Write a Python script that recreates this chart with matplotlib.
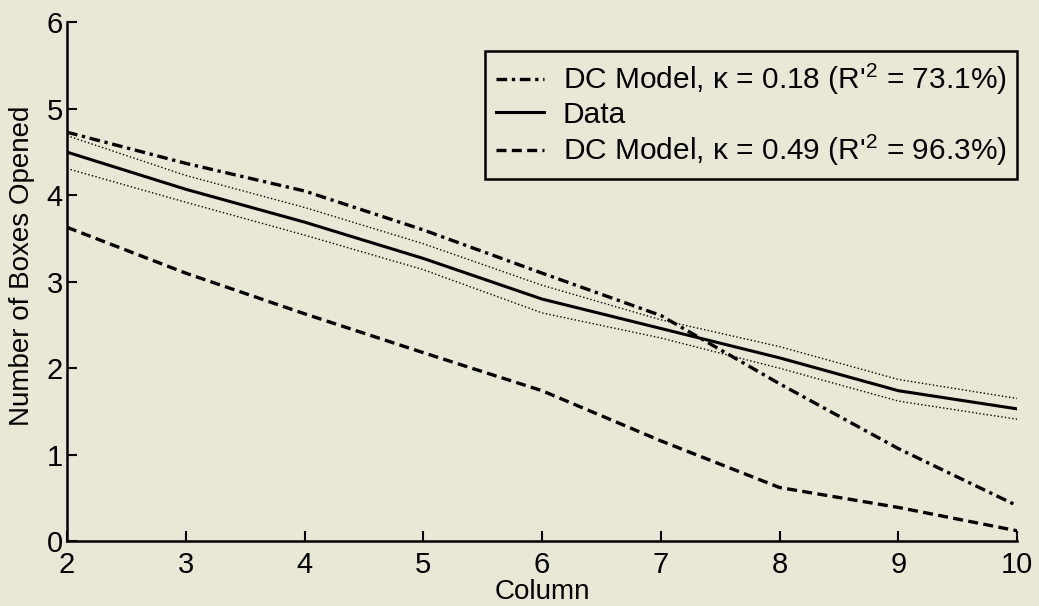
import matplotlib.pyplot as plt

# 数据
columns = [2, 3, 4, 5, 6, 7, 8, 9, 10]
data = [4.50, 4.07, 3.69, 3.27, 2.80, 2.46, 2.12, 1.74, 1.53]
data_upper = [4.69, 4.23, 3.86, 3.44, 2.96, 2.56, 2.25, 1.87, 1.65]
data_lower = [4.31, 3.92, 3.54, 3.14, 2.64, 2.35, 2.00, 1.62, 1.41]
model_k018 = [4.73, 4.37, 4.05, 3.60, 3.10, 2.61, 1.82, 1.07, 0.41]
model_k049 = [3.63, 3.10, 2.63, 2.18, 1.74, 1.16, 0.62, 0.39, 0.12]

label_k018 = "DC Model, \u03ba = 0.18 (R'$^2$ = 73.1%)"
label_k049 = "DC Model, \u03ba = 0.49 (R'$^2$ = 96.3%)"

bg = '#e9e7d6'
plt.rcParams['font.family'] = ['Liberation Sans', 'DejaVu Sans']
plt.rcParams['mathtext.fontset'] = 'custom'
plt.rcParams['mathtext.rm'] = 'Liberation Sans'

fig = plt.figure(figsize=(10.39, 6.06), dpi=100, facecolor=bg)
ax = fig.add_axes([0.0645, 0.107, 0.9145, 0.856], facecolor=bg)

l1, = ax.plot(columns, model_k018, color='black', lw=2.4, dashes=(3.2, 1.4, 1.0, 1.4))
l2, = ax.plot(columns, data, color='black', lw=2.2, ls='-')
l3, = ax.plot(columns, model_k049, color='black', lw=2.4, dashes=(3.0, 1.6))
ax.plot(columns, data_upper, color='black', lw=1.0, ls=':')
ax.plot(columns, data_lower, color='black', lw=1.0, ls=':')

ax.set_xlim(2, 10)
ax.set_ylim(0, 6)
ax.set_xticks(columns)
ax.set_yticks(range(0, 7))
ax.tick_params(direction='in', length=7, width=1.5, labelsize=21)
ax.tick_params(axis='x', pad=7)
ax.tick_params(axis='y', pad=3)
for s in ['top', 'right']:
    ax.spines[s].set_visible(False)
for s in ['left', 'bottom']:
    ax.spines[s].set_linewidth(1.8)

ax.set_xlabel('Column', fontsize=20, labelpad=0)
ax.set_ylabel('Number of Boxes Opened', fontsize=20)
ax.yaxis.set_label_coords(-0.034, 0.53)

leg = ax.legend([l1, l2, l3], [label_k018, 'Data', label_k049],
                loc='upper right', bbox_to_anchor=(1.0, 0.945), fontsize=21.5,
                frameon=True, fancybox=False, handlelength=1.6, handletextpad=0.65,
                borderpad=0.35, labelspacing=0.12, borderaxespad=0)
leg.get_frame().set_edgecolor('black')
leg.get_frame().set_linewidth(1.8)
leg.get_frame().set_facecolor(bg)
leg.get_frame().set_alpha(1)

plt.savefig('out.png', dpi=100, facecolor=bg)
plt.close()
